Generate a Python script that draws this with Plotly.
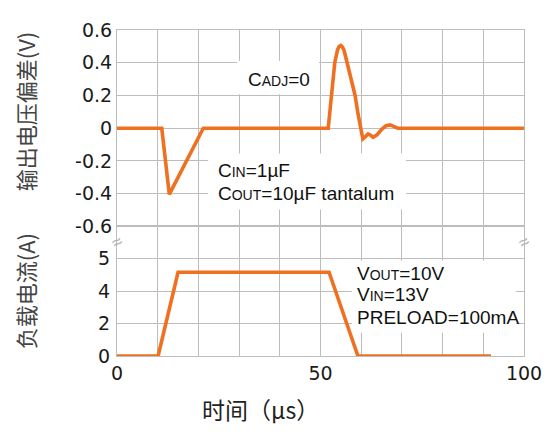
import plotly.graph_objects as go

# ---------------- data ----------------
time_v = [0, 11.0, 12.85, 21.2, 51.9, 52.7, 53.5, 54.2, 54.6, 55.0, 55.4, 55.8,
          56.6, 57.5, 58.5, 59.2, 59.9, 60.4, 61.1, 61.7, 62.4, 62.9, 63.9,
          65.1, 66.1, 67.1, 68.1, 69.0, 100]
dev_v = [0, 0, -0.404, 0, 0, 0.2, 0.4, 0.48, 0.5, 0.505, 0.495, 0.475,
         0.4, 0.3, 0.2, 0.09, 0, -0.065, -0.05, -0.035, -0.045, -0.055, -0.04,
         -0.005, 0.015, 0.02, 0.01, 0, 0]

time_i = [0, 10.1, 15.0, 52.1, 59.2, 91.9]
load_i = [0, 0, 5.17, 5.17, 0, 0]

x_ticks = [0, 50, 100]
x_ticktext = ["0", "50", "100"]
v_ticks = [-0.6, -0.4, -0.2, 0, 0.2, 0.4, 0.6]
v_ticktext = ["-0.6", "-0.4", "-0.2", "0", "0.2", "0.4", "0.6"]
i_ticks = [0, 2, 4, 6, 8]
i_ticktext = ["0", "2", "4", "5", ""]

# ---------------- style ----------------
ORANGE = "#F07021"
GRID = "#bdbdbd"
LATIN = "Liberation Sans, Arial, sans-serif"
TICKFAM = "DejaVu Sans, sans-serif"
CJK = "Noto Sans CJK SC, sans-serif"
split = 0.3976

fig = go.Figure()
fig.add_trace(go.Scatter(x=time_v, y=dev_v, mode="lines", xaxis="x2", yaxis="y2",
                         line=dict(color=ORANGE, width=3.6), showlegend=False,
                         hoverinfo="skip"))
fig.add_trace(go.Scatter(x=time_i, y=load_i, mode="lines", xaxis="x", yaxis="y",
                         line=dict(color=ORANGE, width=3.6), showlegend=False,
                         hoverinfo="skip"))

tickfont = dict(family=TICKFAM, size=19, color="#1a1a1a")
common_x = dict(range=[0, 100], showgrid=True, gridcolor=GRID, gridwidth=1,
                zeroline=False, showline=True, linecolor=GRID, mirror=True,
                tickvals=x_ticks, ticktext=x_ticktext, ticks="",
                minor=dict(dtick=10, showgrid=True, gridcolor=GRID, gridwidth=1))

# the page body adds an 8px margin, so the figure is offset/sized to fill 553x432
fig.update_layout(
    width=545, height=424,
    margin=dict(l=109, r=29, t=11, b=76),
    paper_bgcolor="white", plot_bgcolor="white",
    xaxis=dict(anchor="y", domain=[0, 1], tickfont=tickfont,
               ticklabeloverflow="allow", **common_x),
    xaxis2=dict(anchor="y2", domain=[0, 1], matches="x", showticklabels=False,
                **common_x),
    yaxis=dict(domain=[0, split], range=[0, 8], tickvals=i_ticks, ticktext=i_ticktext,
               showgrid=True, gridcolor=GRID, zeroline=False, showline=True,
               linecolor=GRID, mirror=True, ticks="", tickfont=tickfont,
               ticklabelstandoff=2, ticklabeloverflow="allow"),
    yaxis2=dict(domain=[split, 1], range=[-0.6, 0.6], tickvals=v_ticks,
                ticktext=v_ticktext, showgrid=True, gridcolor=GRID, zeroline=False,
                showline=True, linecolor=GRID, mirror=True, ticks="",
                tickfont=tickfont, ticklabeloverflow="allow"),
)

# white label boxes (above grid, below annotation text; they do not touch the curves)
boxes = [
    dict(xref="x2", yref="y2", x0=29.5, x1=49.6, y0=0.207, y1=0.41),
    dict(xref="x2", yref="y2", x0=22.4, x1=71.0, y0=-0.497, y1=-0.154),
    dict(xref="x", yref="y", x0=57.7, x1=98.0, y0=1.43, y1=5.88),
]
for b in boxes:
    fig.add_shape(type="rect", layer="above", line=dict(width=0),
                  fillcolor="white", **b)

big, small = 19, 14
def sc(first, rest, tail):
    return f"{first}<span style='font-size:{small}px'>{rest}</span>{tail}"

labels = [
    ("x2", "y2", 31.7, 0.30, sc("C", "ADJ", "=0")),
    ("x2", "y2", 24.4, -0.26, sc("C", "IN", "=1µF")),
    ("x2", "y2", 24.4, -0.40, sc("C", "OUT", "=10µF tantalum")),
    ("x", "y", 58.4, 5.1, sc("V", "OUT", "=10V")),
    ("x", "y", 58.4, 3.77, sc("V", "IN", "=13V")),
    ("x", "y", 58.4, 2.4, "PRELOAD=100mA"),
]
for xr, yr, x, y, t in labels:
    fig.add_annotation(xref=xr, yref=yr, x=x, y=y, text=t, showarrow=False,
                       xanchor="left", yanchor="middle",
                       font=dict(family=LATIN, size=big, color="#111111"))

# axis break marks
for xv in (0, 100):
    fig.add_annotation(xref="x", yref="y", x=xv, y=7.05, text="≈", showarrow=False,
                       xanchor="center", yanchor="middle", textangle=-30,
                       font=dict(family=LATIN, size=18, color="#b5b5b5"))

# axis titles
fig.add_annotation(xref="paper", yref="paper", x=-0.226, y=0.7507,
                   text="输出电压偏差(V)", showarrow=False, textangle=-90,
                   xanchor="center", yanchor="middle",
                   font=dict(family=CJK, size=22, color="#444444"))
fig.add_annotation(xref="paper", yref="paper", x=-0.226, y=0.1988,
                   text="负载电流(A)", showarrow=False, textangle=-90,
                   xanchor="center", yanchor="middle",
                   font=dict(family=CJK, size=22, color="#444444"))
fig.add_annotation(xref="paper", yref="paper", x=0.3538, y=-0.1632,
                   text="时间（μs）", showarrow=False,
                   xanchor="center", yanchor="middle",
                   font=dict(family=CJK, size=23, color="#222222"))

fig.write_html("out.html")
